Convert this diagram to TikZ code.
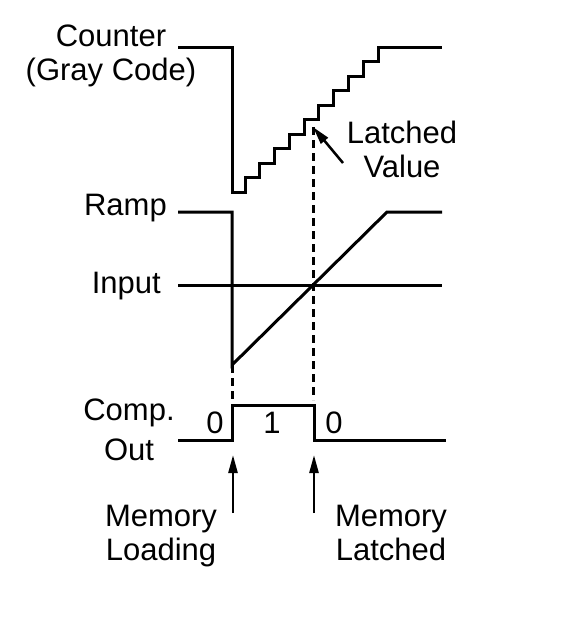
\documentclass[tikz,border=0pt]{standalone}
\usepackage{fontspec}
\setmainfont{Liberation Sans}
\usetikzlibrary{arrows.meta}

\begin{document}
\begin{tikzpicture}[
  x=1pt, y=-1pt,
  sig/.style={line width=3pt, line join=miter},
  guide/.style={line width=3pt, dash pattern=on 8pt off 5pt},
  arr/.style={-{Triangle[length=18pt,width=9pt]}, line width=2.5pt},
  lbl/.style={font=\fontsize{31}{34}\selectfont, inner sep=0pt, align=center}
]
\useasboundingbox (0,0) rectangle (585,627);
% signal names
\node[lbl, anchor=base] (cnt) at (111,80) {Counter\\(Gray Code)};
\node[lbl, anchor=base east] (ramp) at (167,215) {Ramp};
\node[lbl, anchor=base east] (inp) at (161,293) {Input};
\node[lbl, anchor=base] (comp) at (129,460) {Comp.\\[6pt]Out};
% counter staircase
\draw[sig] (178,47) -- (232,47) -- (232,192) -- (245,192)
  \foreach \i in {0,...,9} { -- ++(0,-14.5) -- ++(14.78,0) } -- (442,47);
% ramp and input
\draw[sig] (178,212) -- (232,212) -- (232,365) -- (387,212) -- (442,212);
\draw[sig] (178,285) -- (442,285);
% comparator output
\draw[sig] (178,440) -- (232,440) -- (232,405) -- (314,405) -- (314,440) -- (446,440);
\node[lbl, anchor=base] (z1) at (215,433) {0};
\node[lbl, anchor=base] (one) at (272,433) {1};
\node[lbl, anchor=base] (z2) at (334,433) {0};
% guides
\coordinate (rampLow) at (232,365);
\coordinate (loadTop) at (232,400);
\coordinate (latchVal) at (313,127);
\coordinate (latchTop) at (313,400);
\draw[guide] (rampLow) -- (loadTop);
\draw[guide] (latchVal) -- (latchTop);
% latched value
\node[lbl, anchor=base] (lv) at (402,177) {Latched\\Value};
\coordinate (lvTail) at (343,163);
\draw[arr] (lvTail) -- (latchVal);
% memory events
\coordinate (loadTip) at (233,455);
\coordinate (loadTail) at (233,513);
\coordinate (latchTip) at (314,455);
\coordinate (latchTail) at (314,513);
\draw[arr] (loadTail) -- (loadTip);
\draw[arr] (latchTail) -- (latchTip);
\node[lbl, anchor=base] (mload) at (161,560) {Memory\\Loading};
\node[lbl, anchor=base] (mlatch) at (391,560) {Memory\\Latched};
\end{tikzpicture}
\end{document}
